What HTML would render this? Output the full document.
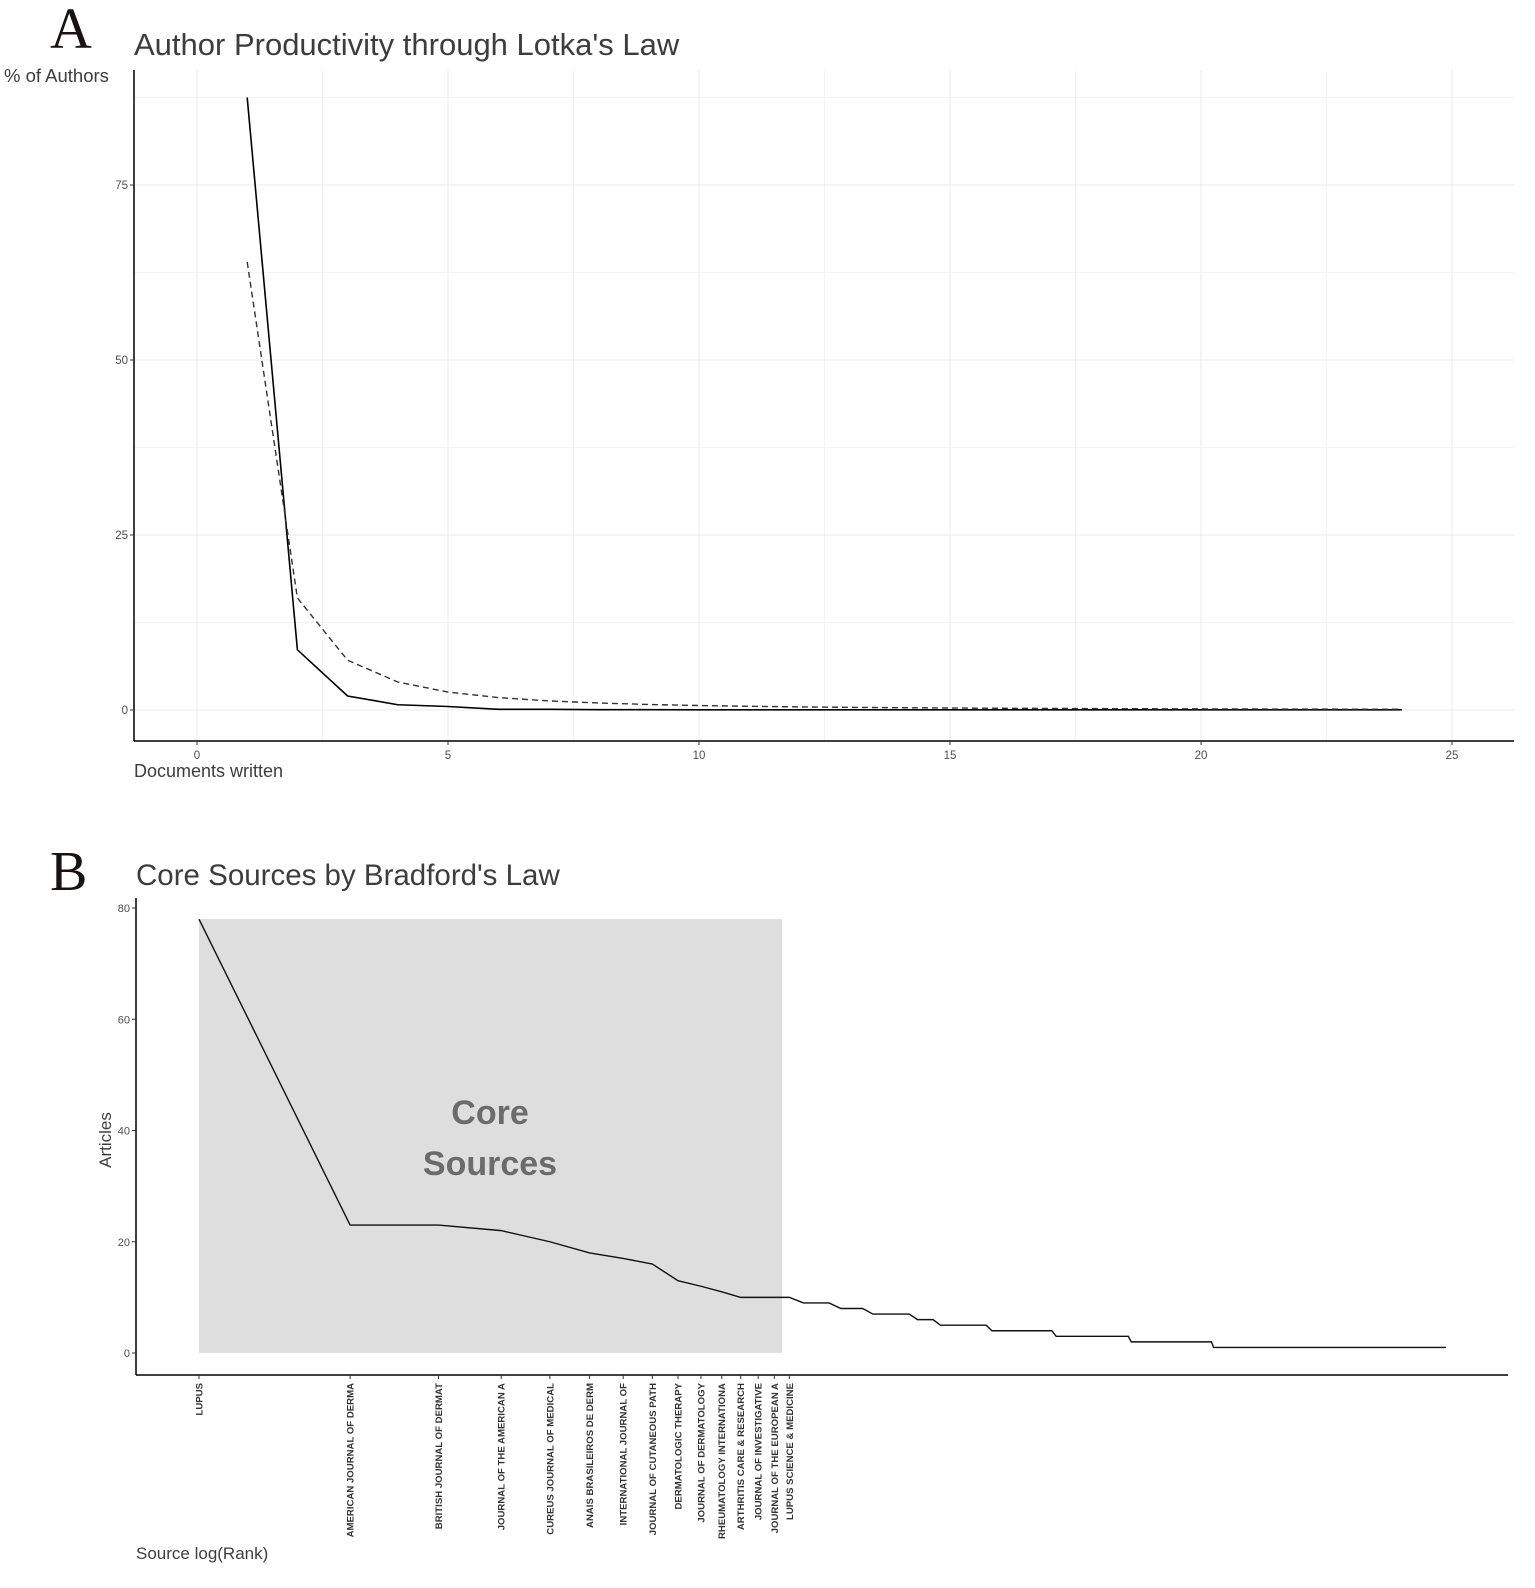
<!DOCTYPE html>
<html><head><meta charset="utf-8"><style>
body{margin:0;background:#fff;}
svg text{font-family:"Liberation Sans",Arial,sans-serif;}
</style></head><body>
<svg id="s" width="1535" height="1583" viewBox="0 0 1535 1583" xmlns="http://www.w3.org/2000/svg">
<rect width="1535" height="1583" fill="#fff"/>
<text x="50" y="48" style="font-family:'Liberation Serif',serif" font-size="58" fill="#1a1210">A</text>
<text x="134" y="55" font-size="31" fill="#3d3d3d">Author Productivity through Lotka's Law</text>
<text x="4" y="82" font-size="18.5" fill="#3d3d3d">% of Authors</text>
<g id="gridA" stroke="#ebebeb" stroke-width="1"></g>
<line x1="134" y1="70" x2="134" y2="741" stroke="#000" stroke-width="1.5"/>
<line x1="134" y1="741" x2="1514" y2="741" stroke="#000" stroke-width="1.5"/>
<g id="ticksA" font-size="11.5" fill="#4d4d4d"></g>
<path id="solidA" fill="none" stroke="#000" stroke-width="1.6"/>
<path id="dashA" fill="none" stroke="#333" stroke-width="1.4" stroke-dasharray="6,4"/>
<text x="134" y="777" font-size="18" fill="#3d3d3d">Documents written</text>

<text x="50" y="890" style="font-family:'Liberation Serif',serif" font-size="56" fill="#1a1210">B</text>
<text x="136" y="885" font-size="29.5" fill="#3d3d3d">Core Sources by Bradford's Law</text>
<rect x="199" y="919" width="583" height="434" fill="#dedede"/>
<text x="490" y="1124" font-size="34" font-weight="bold" fill="#6b6b6b" text-anchor="middle">Core</text>
<text x="490" y="1175" font-size="34" font-weight="bold" fill="#6b6b6b" text-anchor="middle">Sources</text>
<line x1="136" y1="898" x2="136" y2="1375" stroke="#000" stroke-width="1.5"/>
<line x1="136" y1="1375" x2="1508" y2="1375" stroke="#000" stroke-width="1.5"/>
<g id="ticksB" font-size="11" fill="#4d4d4d"></g>
<path id="lineB" fill="none" stroke="#111" stroke-width="1.4"/>
<text transform="translate(111,1140) rotate(-90)" font-size="17" fill="#3d3d3d" text-anchor="middle">Articles</text>
<g id="labelsB" font-size="9.6" font-weight="bold" fill="#333"></g>
<text x="136" y="1559" font-size="17" fill="#3d3d3d">Source log(Rank)</text>
</svg>
<script>
var NS="http://www.w3.org/2000/svg";
function el(p,t,a,txt){var e=document.createElementNS(NS,t);for(var k in a)e.setAttribute(k,a[k]);if(txt!==undefined)e.textContent=txt;document.getElementById(p).appendChild(e);return e;}
function ax(x){return 197+x*50.2;} function ay(y){return 710-y*7;}
for(var v=0;v<=25;v+=2.5){el("gridA","line",{x1:ax(v),y1:70,x2:ax(v),y2:741,stroke:v%5?"#f3f3f3":"#ebebeb"});}
for(var v=0;v<=87.5;v+=12.5){el("gridA","line",{x1:134,y1:ay(v),x2:1514,y2:ay(v),stroke:v%25?"#f3f3f3":"#ebebeb"});}
[0,25,50,75].forEach(function(v){el("ticksA","text",{x:128,y:ay(v)+4,"text-anchor":"end"},v);el("ticksA","line",{x1:130,y1:ay(v),x2:134,y2:ay(v),stroke:"#333"});});
[0,5,10,15,20,25].forEach(function(v){el("ticksA","text",{x:ax(v),y:759,"text-anchor":"middle"},v);el("ticksA","line",{x1:ax(v),y1:741,x2:ax(v),y2:745,stroke:"#333"});});
var sol=[87.5,8.6,2.0,0.75,0.5,0.1,0.1,0.05,0.05];
var d="";for(var i=1;i<=24;i++){var y=i<=sol.length?sol[i-1]:0.02;d+=(i==1?"M":"L")+ax(i)+","+ay(y);}
document.getElementById("solidA").setAttribute("d",d);
d="";for(var i=1;i<=24;i++){d+=(i==1?"M":"L")+ax(i)+","+ay(64/(i*i));}
document.getElementById("dashA").setAttribute("d",d);
function bx(r){return 199+218*Math.log(r);} function by(v){return 1353-v*5.5625;}
[0,20,40,60,80].forEach(function(v){el("ticksB","text",{x:130,y:by(v)+4,"text-anchor":"end"},v);el("ticksB","line",{x1:132,y1:by(v),x2:136,y2:by(v),stroke:"#333"});});
var vals=[78,23,23,22,20,18,17,16,13,12,11,10,10,10,10];
var th=[[18,9],[21,8],[26,7],[29,6],[37,5],[50,4],[71,3],[104,2],[305,1]];
d="";for(var r=1;r<=305;r++){var v;if(r<=15)v=vals[r-1];else{for(var j=0;j<th.length;j++){if(r<=th[j][0]){v=th[j][1];break;}}}d+=(r==1?"M":"L")+bx(r).toFixed(2)+","+by(v).toFixed(2);}
document.getElementById("lineB").setAttribute("d",d);
var names=["LUPUS","AMERICAN JOURNAL OF DERMA","BRITISH JOURNAL OF DERMAT","JOURNAL OF THE AMERICAN A","CUREUS JOURNAL OF MEDICAL","ANAIS BRASILEIROS DE DERM","INTERNATIONAL JOURNAL OF","JOURNAL OF CUTANEOUS PATH","DERMATOLOGIC THERAPY","JOURNAL OF DERMATOLOGY","RHEUMATOLOGY INTERNATIONA","ARTHRITIS CARE & RESEARCH","JOURNAL OF INVESTIGATIVE","JOURNAL OF THE EUROPEAN A","LUPUS SCIENCE & MEDICINE"];
names.forEach(function(n,i){var x=bx(i+1);el("labelsB","line",{x1:x,y1:1375,x2:x,y2:1379,stroke:"#333"});el("labelsB","text",{transform:"translate("+(x+3.5)+",1383) rotate(-90)","text-anchor":"end"},n);});
</script>
</body></html>
